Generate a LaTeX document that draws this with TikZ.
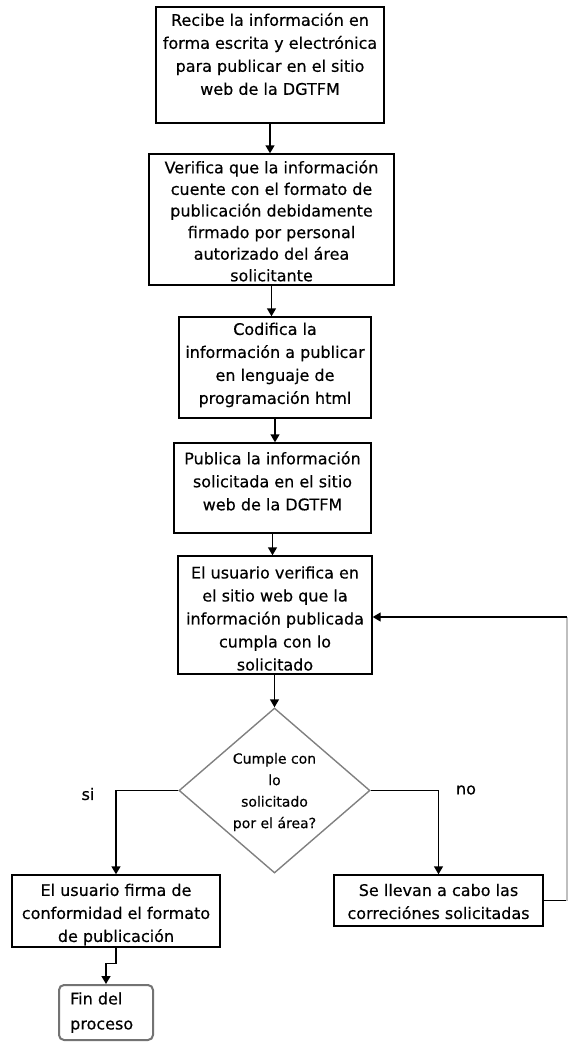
\documentclass[tikz,border=0pt]{standalone}
\usepackage{fontspec}
\setmainfont{DejaVu Sans}[FakeBold=0.4]
\usetikzlibrary{arrows.meta,shapes.geometric}
\begin{document}
\begin{tikzpicture}[x=1pt,y=-1pt,
  box/.style={draw=black, line width=1.4pt, rectangle, inner sep=0pt},
  txt/.style={align=center, inner sep=0pt, font=\fontsize{16}{23}\selectfont},
  conn/.style={draw=black, line width=1.4pt},
  arr/.style={conn, -{Triangle[length=8pt,width=9pt]}},
  lbl/.style={inner sep=0pt, font=\fontsize{16}{20}\selectfont}
  ]
\useasboundingbox (0,0) rectangle (569,1042);
% boxes
\node[box, minimum width=228pt, minimum height=116pt] (b1) at (270,65) {};
\node[txt] (t1) at (270,54) {Recibe la información en\\forma escrita y electrónica\\para publicar en el sitio\\web de la DGTFM};
\node[box, minimum width=245pt, minimum height=131pt] (b2) at (271.5,219.5) {};
\node[txt, font=\fontsize{16}{21.6}\selectfont] (t2) at (271.5,221) {Verifica que la información\\cuente con el formato de\\publicación debidamente\\firmado por personal\\autorizado del área\\solicitante};
\node[box, minimum width=192pt, minimum height=101pt] (b3) at (275,367.5) {};
\node[txt] (t3) at (275,365) {Codifica la\\información a publicar\\en lenguaje de\\programación html};
\node[box, minimum width=197pt, minimum height=90pt] (b4) at (272.5,488) {};
\node[txt] (t4) at (272.5,481) {Publica la información\\solicitada en el sitio\\web de la DGTFM};
\node[box, minimum width=194pt, minimum height=118pt] (b5) at (275,615) {};
\node[txt] (t5) at (275,618.5) {El usuario verifica en\\el sitio web que la\\información publicada\\cumpla con lo\\solicitado};
\node[diamond, draw=black!50, line width=1.4pt, inner sep=0pt, minimum width=191pt, minimum height=165pt] (d) at (274.5,790.5) {};
\node[txt, font=\fontsize{14}{21.5}\selectfont] (td) at (274.5,792) {Cumple con\\lo\\solicitado\\por el área?};
\node[box, minimum width=208pt, minimum height=72pt] (f) at (116,911) {};
\node[txt] (tf) at (116,914.5) {El usuario firma de\\conformidad el formato\\de publicación};
\node[box, minimum width=209pt, minimum height=51pt] (c) at (438.5,900.5) {};
\node[txt] (tc) at (438.5,901.5) {Se llevan a cabo las\\correciónes solicitadas};
\node[draw=black!55, line width=2pt, rounded corners=5pt, inner sep=0pt, minimum width=94pt, minimum height=55pt] (fin) at (106,1012.5) {};
\node[txt, align=left, anchor=west, font=\fontsize{16}{25}\selectfont] (tfin) at (70,1012.5) {Fin del\\proceso};
% labels
\node[lbl] (si) at (88,794) {si};
\node[lbl] (no) at (466,790) {no};
% connectors
\draw[arr] (b1.south) -- (b1.south |- b2.north);
\draw[arr] (b2.south) -- (b2.south |- b3.north);
\draw[arr] (b3.south) -- (b3.south |- b4.north);
\draw[arr] (b4.south) -- (b4.south |- b5.north);
\draw[arr] (d.north |- b5.south) -- (d.north);
\draw[arr] (d.west) -| (f.north);
\draw[arr] (d.east) -| (c.north);
\draw[arr] (f.south) -- ++(0,16) -| (fin.north);
\coordinate (r1) at (567,900.5);
\coordinate (r2) at (567,617);
\draw[conn] (c.east) -- (r1);
\draw[draw=black!25, line width=1.2pt] (r1) -- (r2);
\draw[arr] (r2) -- (r2 -| b5.east);
\end{tikzpicture}
\end{document}
